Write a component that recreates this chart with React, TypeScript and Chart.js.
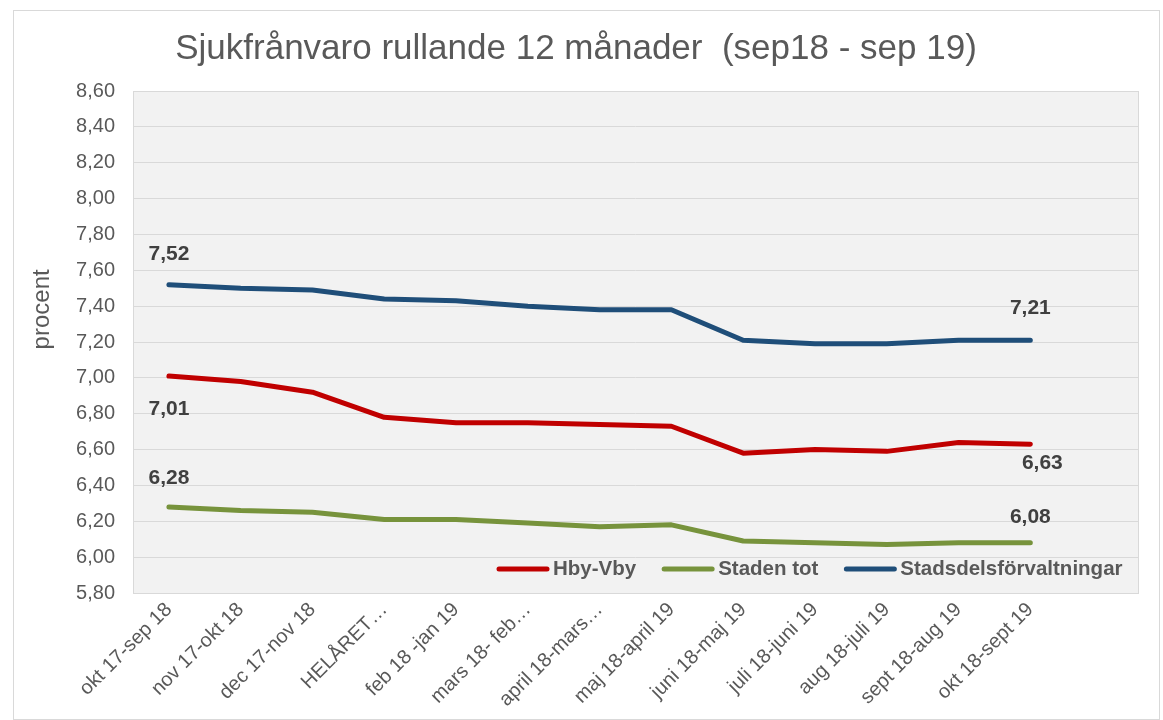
import React, { useEffect, useRef } from 'react';
import { Chart, registerables } from 'chart.js';

Chart.register(...registerables);

const chartTitle = 'Sjukfrånvaro rullande 12 månader  (sep18 - sep 19)';
const yAxisTitle = 'procent';

const categories = [
  'okt 17-sep 18',
  'nov 17-okt 18',
  'dec 17-nov 18',
  'HELÅRET…',
  'feb 18 -jan 19',
  'mars 18- feb…',
  'april 18-mars…',
  'maj 18-april 19',
  'juni 18-maj 19',
  'juli 18-juni 19',
  'aug 18-juli 19',
  'sept 18-aug 19',
  'okt 18-sept 19',
  '',
];

const seriesNames = ['Hby-Vby', 'Staden tot', 'Stadsdelsförvaltningar'];
const hbyVby = [7.01, 6.98, 6.92, 6.78, 6.75, 6.75, 6.74, 6.73, 6.58, 6.6, 6.59, 6.64, 6.63];
const stadenTot = [6.28, 6.26, 6.25, 6.21, 6.21, 6.19, 6.17, 6.18, 6.09, 6.08, 6.07, 6.08, 6.08];
const stadsdelar = [7.52, 7.5, 7.49, 7.44, 7.43, 7.4, 7.38, 7.38, 7.21, 7.19, 7.19, 7.21, 7.21];

const yMin = 5.8;
const yMax = 8.6;
const yStep = 0.2;

const FONT = "'Liberation Sans', Arial, sans-serif";
const fmt = (v: number) => v.toFixed(2).replace('.', ',');

// which points get a value label, and where (style only)
const labelSpecs = [
  [
    { index: 0, dx: 0, dy: 33 },
    { index: 12, dx: 12, dy: 19 },
  ],
  [
    { index: 0, dx: 0, dy: -29 },
    { index: 12, dx: 0, dy: -26 },
  ],
  [
    { index: 0, dx: 0, dy: -30 },
    { index: 12, dx: 0, dy: -32 },
  ],
];

const plotBgPlugin = {
  id: 'plotBg',
  beforeDraw(chart: any) {
    const { ctx, chartArea } = chart;
    ctx.save();
    ctx.fillStyle = '#f2f2f2';
    ctx.fillRect(chartArea.left, chartArea.top, chartArea.right - chartArea.left, chartArea.bottom - chartArea.top);
    ctx.restore();
  },
  beforeDatasetsDraw(chart: any) {
    const { ctx, chartArea } = chart;
    ctx.save();
    ctx.strokeStyle = '#d9d9d9';
    ctx.lineWidth = 1;
    ctx.strokeRect(
      Math.round(chartArea.left) + 0.5,
      Math.round(chartArea.top) + 0.5,
      Math.round(chartArea.right - chartArea.left),
      Math.round(chartArea.bottom - chartArea.top)
    );
    ctx.restore();
  },
};

// y-axis title drawn slightly above the plot's middle, as in the reference
const yTitlePlugin = {
  id: 'yTitle',
  afterDraw(chart: any) {
    const { ctx, chartArea } = chart;
    ctx.save();
    ctx.translate(28, chartArea.top + (chartArea.bottom - chartArea.top) * 0.435);
    ctx.rotate(-Math.PI / 2);
    ctx.font = `24px ${FONT}`;
    ctx.fillStyle = '#595959';
    ctx.textAlign = 'center';
    ctx.textBaseline = 'middle';
    ctx.fillText(yAxisTitle, 0, 0);
    ctx.restore();
  },
};

const valueLabelPlugin = {
  id: 'valueLabels',
  afterDatasetsDraw(chart: any) {
    const { ctx } = chart;
    ctx.save();
    ctx.font = `bold 21px ${FONT}`;
    ctx.fillStyle = '#404040';
    ctx.textAlign = 'center';
    ctx.textBaseline = 'middle';
    chart.data.datasets.forEach((ds: any, i: number) => {
      const meta = chart.getDatasetMeta(i);
      (labelSpecs[i] || []).forEach((s) => {
        const el = meta.data[s.index];
        if (!el) return;
        ctx.fillText(fmt(ds.data[s.index]), el.x + s.dx, el.y + s.dy);
      });
    });
    ctx.restore();
  },
};

const legendPlugin = {
  id: 'insideLegend',
  afterDraw(chart: any) {
    const { ctx, chartArea } = chart;
    const y = chartArea.bottom - 24;
    let x = 483;
    ctx.save();
    ctx.font = `bold 20.5px ${FONT}`;
    ctx.textBaseline = 'middle';
    ctx.textAlign = 'left';
    chart.data.datasets.forEach((ds: any) => {
      ctx.strokeStyle = ds.borderColor;
      ctx.lineWidth = 5;
      ctx.lineCap = 'round';
      ctx.beginPath();
      ctx.moveTo(x + 2, y);
      ctx.lineTo(x + 50, y);
      ctx.stroke();
      x += 56;
      ctx.fillStyle = '#595959';
      ctx.fillText(ds.label, x, y);
      x += ctx.measureText(ds.label).width + 26;
    });
    ctx.restore();
  },
};

export default function App() {
  const canvasRef = useRef<HTMLCanvasElement | null>(null);

  useEffect(() => {
    document.body.style.overflow = 'hidden';
    const canvas = canvasRef.current;
    if (!canvas) return;
    const chart = new Chart(canvas, {
      type: 'line',
      data: {
        labels: categories,
        datasets: [
          {
            label: seriesNames[0],
            data: hbyVby,
            borderColor: '#c00000',
            backgroundColor: '#c00000',
          },
          {
            label: seriesNames[1],
            data: stadenTot,
            borderColor: '#77933c',
            backgroundColor: '#77933c',
          },
          {
            label: seriesNames[2],
            data: stadsdelar,
            borderColor: '#1f4e79',
            backgroundColor: '#1f4e79',
          },
        ].map((d) => ({
          ...d,
          borderWidth: 5,
          pointRadius: 0,
          pointHoverRadius: 0,
          tension: 0,
          borderCapStyle: 'round' as const,
          borderJoinStyle: 'round' as const,
          fill: false,
        })),
      },
      options: {
        responsive: false,
        animation: false,
        devicePixelRatio: 1,
        layout: { padding: { left: 0, right: 21, top: 0, bottom: 0 } },
        plugins: {
          legend: { display: false },
          tooltip: { enabled: false },
          title: {
            display: true,
            text: chartTitle,
            color: '#595959',
            font: { family: FONT, size: 35, weight: 'normal' },
            padding: { top: 17, bottom: 21 },
          },
        },
        scales: {
          x: {
            type: 'category',
            offset: true,
            grid: { display: false, drawTicks: false },
            border: { display: false },
            ticks: {
              autoSkip: false,
              minRotation: 45,
              maxRotation: 45,
              color: '#595959',
              font: { family: FONT, size: 20 },
              padding: 5,
            },
            afterFit: (s: any) => {
              s.height = 126;
            },
          },
          y: {
            min: yMin,
            max: yMax,
            grid: { color: '#d9d9d9', drawTicks: false, lineWidth: 1 },
            border: { display: false },
            ticks: {
              stepSize: yStep,
              color: '#595959',
              font: { family: FONT, size: 20 },
              padding: 18,
              callback: (v: any) => fmt(Number(v)),
            },
            title: { display: false, text: yAxisTitle },
            afterFit: (s: any) => {
              s.width = 119;
            },
          },
        },
      },
      plugins: [plotBgPlugin, valueLabelPlugin, legendPlugin, yTitlePlugin],
    });
    return () => {
      chart.destroy();
    };
  }, []);

  return (
    <div
      style={{
        position: 'absolute',
        left: 13,
        top: 10,
        width: 1145,
        height: 708,
        border: '1px solid #d9d9d9',
        background: '#ffffff',
      }}
    >
      <canvas ref={canvasRef} width={1145} height={708} style={{ display: 'block' }} />
    </div>
  );
}
